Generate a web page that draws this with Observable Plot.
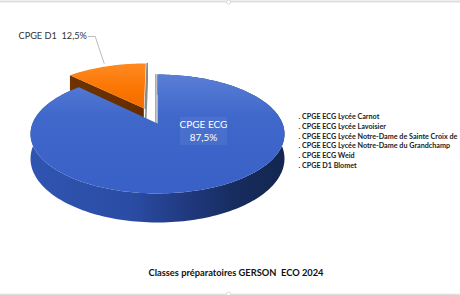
<!DOCTYPE html>
<html><head><meta charset="utf-8">
<script src="https://cdn.jsdelivr.net/npm/d3@7"></script>
<script src="https://cdn.jsdelivr.net/npm/@observablehq/plot@0.6"></script>
<style>
html,body{margin:0;padding:0;background:#fff;}
#chart{width:460px;height:295px;overflow:hidden;position:relative;}
</style>
</head><body><div id="chart"></div>
<script>
// ---- data ----
const categories = ["CPGE ECG", "CPGE D1"];
const values = [87.5, 12.5];
const valueLabels = ["87,5%", "12,5%"];
const legendLabels = [
  ". CPGE ECG Lycée Carnot",
  ". CPGE ECG Lycée Lavoisier",
  ". CPGE ECG Lycée Notre-Dame de Sainte Croix de",
  ". CPGE ECG Lycée Notre-Dame du Grandchamp",
  ". CPGE ECG Weid",
  ". CPGE D1 Blomet"
];
const chartTitle = "Classes préparatoires GERSON\u00a0 ECO 2024";
const explodedCategory = "CPGE D1";

// ---- layout (3D projection of the pie) ----
const L = {cx: 157, cy: 123, A: 125, B: 57.6, e: 0.1765, H: 23.9, explode: 0.3};
function proj(X, Y, z) {
  const w = 1 - L.e * Y;
  return [L.cx + L.A * X / w, L.cy + (L.B * Y + L.H * z) / w];
}
function rim(a, off, z, r = 1) {
  return proj(off[0] + r * Math.sin(a), off[1] - r * Math.cos(a), z);
}
function arcPts(a0, a1, off, z) {
  const n = Math.max(2, Math.ceil((a1 - a0) / (Math.PI / 120)));
  const pts = [];
  for (let i = 0; i <= n; i++) pts.push(rim(a0 + (a1 - a0) * i / n, off, z));
  return pts;
}

const arcs = d3.pie().sort(null)(values).map((p, i) => {
  const mid = (p.startAngle + p.endAngle) / 2;
  const ex = categories[i] === explodedCategory ? L.explode : 0;
  const off = [ex * Math.sin(mid), -ex * Math.cos(mid)];
  return {cat: categories[i], label: valueLabels[i], a0: p.startAngle, a1: p.endAngle, mid, off};
});
const blue = arcs[0], orange = arcs[1];

const topFace = s => [proj(s.off[0], s.off[1], 0), ...arcPts(s.a0, s.a1, s.off, 0), proj(s.off[0], s.off[1], 0)];
const sideWall = s => [...arcPts(s.a0, s.a1, s.off, 0), ...arcPts(s.a0, s.a1, s.off, 1).reverse()];
const cutFace = (s, a) => [proj(s.off[0], s.off[1], 0), rim(a, s.off, 0), rim(a, s.off, 1), proj(s.off[0], s.off[1], 1)];

// leader line for exploded slice
const leaderStart = rim(orange.mid, orange.off, 0, 1.0);
const leader = [[leaderStart[0] - 2, leaderStart[1] - 3], [leaderStart[0] - 11, 36], [leaderStart[0] - 18, 36]];

const P = d => d[0], Q = d => d[1];
const poly = (pts, opts) => Plot.line(pts, {x: P, y: Q, stroke: "none", ...opts});

const ecgAnchor = [203, 131];

const plot = Plot.plot({
  width: 460, height: 295, margin: 0,
  x: {domain: [0, 460], range: [0, 460], axis: null},
  y: {domain: [0, 295], range: [0, 295], axis: null},
  style: {background: "transparent", fontFamily: "Lato, 'Open Sans', sans-serif", overflow: "hidden"},
  marks: [
    // frame lines
    Plot.ruleY([1], {stroke: "#dedede", strokeWidth: 2}),
    Plot.ruleY([294], {stroke: "#dedede", strokeWidth: 1.5}),
    Plot.dot([[228, 1.5], [228, 293.5]], {x: P, y: Q, r: 2, fill: "#fff", stroke: "#d0d0d0", strokeWidth: 0.8}),
    // exploded orange slice
    poly(cutFace(orange, orange.a1), {stroke: "#8a8a8a", strokeWidth: 1.6, dx: 1.4}),
    poly(cutFace(orange, orange.a0), {fill: "url(#gBrown)"}),
    poly(topFace(orange), {fill: "url(#gOrange)"}),
    // blue slice
    poly(sideWall(blue), {fill: "#3a3a3a", ariaLabel: "shadow", dx: -0.5, dy: 2}),
    poly(sideWall(blue), {fill: "url(#gBlueSide)"}),
    poly(cutFace(blue, blue.a0), {stroke: "#9a9a9a", strokeWidth: 1.4, dx: -1.6}),
    poly(topFace(blue), {fill: "url(#gBlueTop)"}),
    // leader
    Plot.line(leader, {x: P, y: Q, stroke: "#a9a9a9", strokeWidth: 0.8}),
    // labels
    Plot.rect([ecgAnchor], {x1: d => d[0] - 23, x2: d => d[0] + 24, y1: d => d[1] - 14, y2: d => d[1] + 14, fill: "#ffffff", fillOpacity: 0.06}),
    Plot.text([blue], {x: () => ecgAnchor[0], y: () => ecgAnchor[1] - 6.5, text: d => d.cat, fill: "#fff", fontSize: 10}),
    Plot.text([blue], {x: () => ecgAnchor[0], y: () => ecgAnchor[1] + 6.5, text: d => d.label, fill: "#fff", fontSize: 10}),
    Plot.text([orange], {x: () => 18, y: () => 35.5, text: d => d.cat + "\u00a0 " + d.label, textAnchor: "start", fill: "#333", fontSize: 9.2}),
    // legend
    Plot.text(legendLabels, {x: () => 298, y: (d, i) => 116.5 + i * 9.7, text: d => d, textAnchor: "start", fill: "#222", fontSize: 7.2, fontWeight: "bold"}),
    // title
    Plot.text([chartTitle], {x: () => 235.5, y: () => 273, text: d => d, fill: "#111", fontSize: 9.3, fontWeight: "bold"})
  ]
});

const defs = d3.create("svg:defs");
function lin(id, x2, y2, stops) {
  const g = defs.append("linearGradient").attr("id", id).attr("x1", 0).attr("y1", 0).attr("x2", x2).attr("y2", y2);
  stops.forEach(([o, c]) => g.append("stop").attr("offset", o).attr("stop-color", c));
}
lin("gBlueTop", 0, 1, [[0, "#5a7ed7"], [0.35, "#4068cb"], [1, "#3860c6"]]);
lin("gBlueSide", 1, 0, [[0, "#2f55b1"], [0.4, "#2b4ca4"], [0.62, "#20397e"], [0.8, "#172d60"], [1, "#13264f"]]);
lin("gOrange", 0, 1, [[0, "#ff8a22"], [0.6, "#fa7400"], [1, "#f36c00"]]);
lin("gBrown", 1, 0, [[0, "#6f3300"], [1, "#642c00"]]);
const f = defs.append("filter").attr("id", "blur").attr("x", "-10%").attr("y", "-10%").attr("width", "120%").attr("height", "130%");
f.append("feGaussianBlur").attr("stdDeviation", 1.3);
plot.insertBefore(defs.node(), plot.firstChild);
d3.select(plot).selectAll('g[aria-label="shadow"]').attr("filter", "url(#blur)").attr("opacity", 0.7);

document.getElementById("chart").appendChild(plot);
</script>
</body></html>
